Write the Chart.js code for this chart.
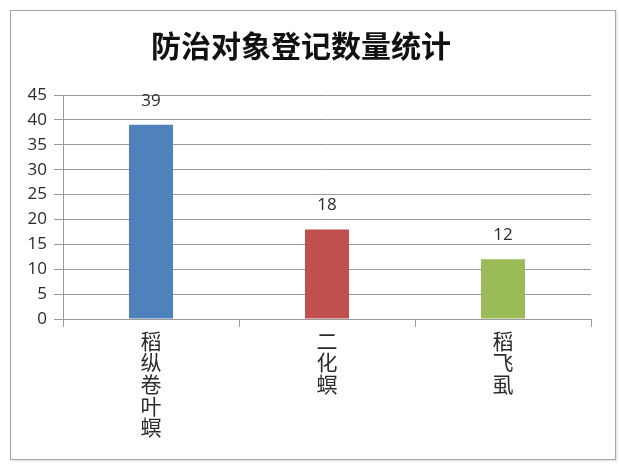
<!DOCTYPE html>
<html>
<head>
<meta charset="utf-8">
<script src="https://cdn.jsdelivr.net/npm/chart.js@4/dist/chart.umd.min.js"></script>
<style>
  html, body { margin: 0; padding: 0; background: #fff; }
  #frame {
    position: absolute; left: 10px; top: 10px;
    width: 604px; height: 448px;
    border: 1px solid #a6a6a6;
    box-shadow: 1px 1px 2px rgba(0,0,0,0.15);
  }
  #chart { display: block; }
</style>
</head>
<body>
<div id="frame"><canvas id="chart" width="604" height="448"></canvas></div>
<script>
// 图表数据
const categories = ['稻纵卷叶螟', '二化螟', '稻飞虱'];
const counts = [39, 18, 12];
const barColors = ['#4f81bd', '#c0504d', '#9bbb59'];
const yTicks = [0, 5, 10, 15, 20, 25, 30, 35, 40, 45];

const GRID = '#999999';
const TEXT = '#2b2b2b';

// 竖排标签：每个字一行
const verticalLabels = categories.map((c) => c.split(''));

// 柱顶数值标签
const valueLabels = {
  id: 'valueLabels',
  afterDatasetsDraw(chart) {
    const { ctx } = chart;
    const meta = chart.getDatasetMeta(0);
    ctx.save();
    ctx.font = '17px "Open Sans", "DejaVu Sans", sans-serif';
    ctx.fillStyle = TEXT;
    ctx.textAlign = 'center';
    ctx.textBaseline = 'middle';
    meta.data.forEach((bar, i) => {
      ctx.fillText(String(counts[i]), bar.x, bar.y - 24);
    });
    ctx.restore();
  },
};

new Chart(document.getElementById('chart').getContext('2d'), {
  type: 'bar',
  data: {
    labels: verticalLabels,
    datasets: [{
      data: counts,
      backgroundColor: barColors,
      borderWidth: 0,
      categoryPercentage: 1,
      barPercentage: 0.25,
    }],
  },
  options: {
    responsive: false,
    animation: false,
    layout: { padding: { left: 0, right: 24, top: 0, bottom: 0 } },
    plugins: {
      legend: { display: false },
      tooltip: { enabled: false },
      title: {
        display: true,
        text: '防治对象登记数量统计',
        color: '#111',
        font: { family: '"Noto Sans CJK SC", sans-serif', size: 30, weight: 'bold', lineHeight: 1.2 },
        padding: { top: 17, bottom: 31 },
      },
    },
    scales: {
      x: {
        afterFit: (scale) => { scale.height = 140; },
        grid: {
          offset: true,
          drawOnChartArea: false,
          drawTicks: true,
          tickLength: 8,
          color: GRID,
        },
        border: { display: true, color: GRID },
        ticks: {
          color: TEXT,
          maxRotation: 0,
          autoSkip: false,
          padding: 3,
          font: { family: '"Noto Sans CJK SC", sans-serif', size: 21, lineHeight: 1.03 },
        },
      },
      y: {
        min: 0,
        max: 45,
        afterFit: (scale) => { scale.width = 52; },
        afterBuildTicks: (scale) => { scale.ticks = yTicks.map((v) => ({ value: v })); },
        grid: { color: GRID, tickLength: 9, drawTicks: true },
        border: { display: true, color: GRID },
        ticks: {
          color: TEXT,
          padding: 7,
          font: { family: '"Open Sans", "DejaVu Sans", sans-serif', size: 17 },
        },
      },
    },
  },
  plugins: [valueLabels],
});
</script>
</body>
</html>
